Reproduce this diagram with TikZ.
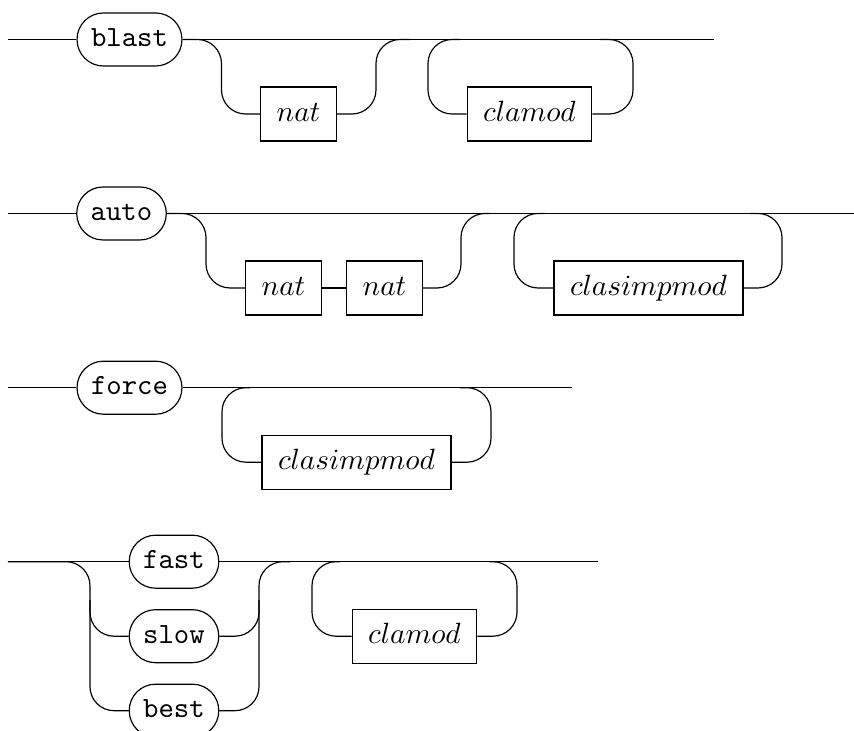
\documentclass[tikz,border=0pt]{standalone}
\begin{document}
\begin{tikzpicture}[x=0.3413pt,y=-0.3413pt,
  term/.style={draw, rectangle, rounded corners=9.0pt, minimum height=18.09pt, inner xsep=4.78pt, inner ysep=0pt, text height=6pt, text depth=1.2pt, font=\ttfamily},
  nterm/.style={draw, rectangle, minimum height=18.43pt, inner xsep=5.46pt, inner ysep=0pt, text height=6pt, text depth=1.2pt},
  rail/.style={rounded corners=8.2pt}]
\useasboundingbox (0,0) rectangle (854,731);

% ---- row 1
\coordinate (s1) at (8,39.5);
\coordinate (e1) at (714,39.5);
\node[term]  (blast)   at (129.5,39.5) {blast};
\node[nterm] (nat1)    at (298.5,114) {$nat$};
\node[nterm] (clamod1) at (529.5,114) {$clamod$};
\draw (s1) -- (blast.west);
\draw (blast.east) -- (e1);
\draw[rail] (blast.east) -- (221.5,39.5) -- (221.5,114) -- (nat1.west);
\draw[rail] (nat1.east) -- (376,114) -- (376,39.5) -- (410,39.5);
\draw[rail] (clamod1.west) -- (428,114) -- (428,39.5) -- (460,39.5);
\draw[rail] (clamod1.east) -- (633,114) -- (633,39.5) -- (600,39.5);

% ---- row 2
\coordinate (s2) at (8,213.5);
\coordinate (e2) at (854,213.5);
\node[term]  (auto)     at (121.5,213.5) {auto};
\node[nterm] (nat2a)    at (283.5,288) {$nat$};
\node[nterm] (nat2b)    at (384.5,288) {$nat$};
\node[nterm] (clasimp2) at (648.5,288) {$clasimpmod$};
\draw (s2) -- (auto.west);
\draw (auto.east) -- (e2);
\draw[rail] (auto.east) -- (206,213.5) -- (206,288) -- (nat2a.west);
\draw (nat2a.east) -- (nat2b.west);
\draw[rail] (nat2b.east) -- (461,288) -- (461,213.5) -- (490,213.5);
\draw[rail] (clasimp2.west) -- (514,288) -- (514,213.5) -- (545,213.5);
\draw[rail] (clasimp2.east) -- (782,288) -- (782,213.5) -- (750,213.5);

% ---- row 3
\coordinate (s3) at (8,387.7);
\coordinate (e3) at (572,387.7);
\node[term]  (force)    at (129.5,387.7) {force};
\node[nterm] (clasimp3) at (356.5,462.2) {$clasimpmod$};
\draw (s3) -- (force.west);
\draw (force.east) -- (e3);
\draw[rail] (clasimp3.west) -- (222,462.2) -- (222,387.7) -- (250,387.7);
\draw[rail] (clasimp3.east) -- (491,462.2) -- (491,387.7) -- (460,387.7);

% ---- row 4
\coordinate (s4) at (8,561.7);
\coordinate (e4) at (598,561.7);
\node[term]  (fast)    at (174,561.7) {fast};
\node[term]  (slow)    at (174,636.2) {slow};
\node[term]  (best)    at (174,710.7) {best};
\node[nterm] (clamod4) at (414.5,636.2) {$clamod$};
\draw (s4) -- (fast.west);
\draw (fast.east) -- (e4);
\draw[rail] (s4) -- (90,561.7) -- (90,710.7) -- (best.west);
\draw[rail] (90,600) -- (90,636.2) -- (slow.west);
\draw[rail] (best.east) -- (259,710.7) -- (259,561.7) -- (290,561.7);
\draw[rail] (slow.east) -- (259,636.2) -- (259,600);
\draw[rail] (clamod4.west) -- (312,636.2) -- (312,561.7) -- (340,561.7);
\draw[rail] (clamod4.east) -- (517,636.2) -- (517,561.7) -- (490,561.7);
\end{tikzpicture}
\end{document}
